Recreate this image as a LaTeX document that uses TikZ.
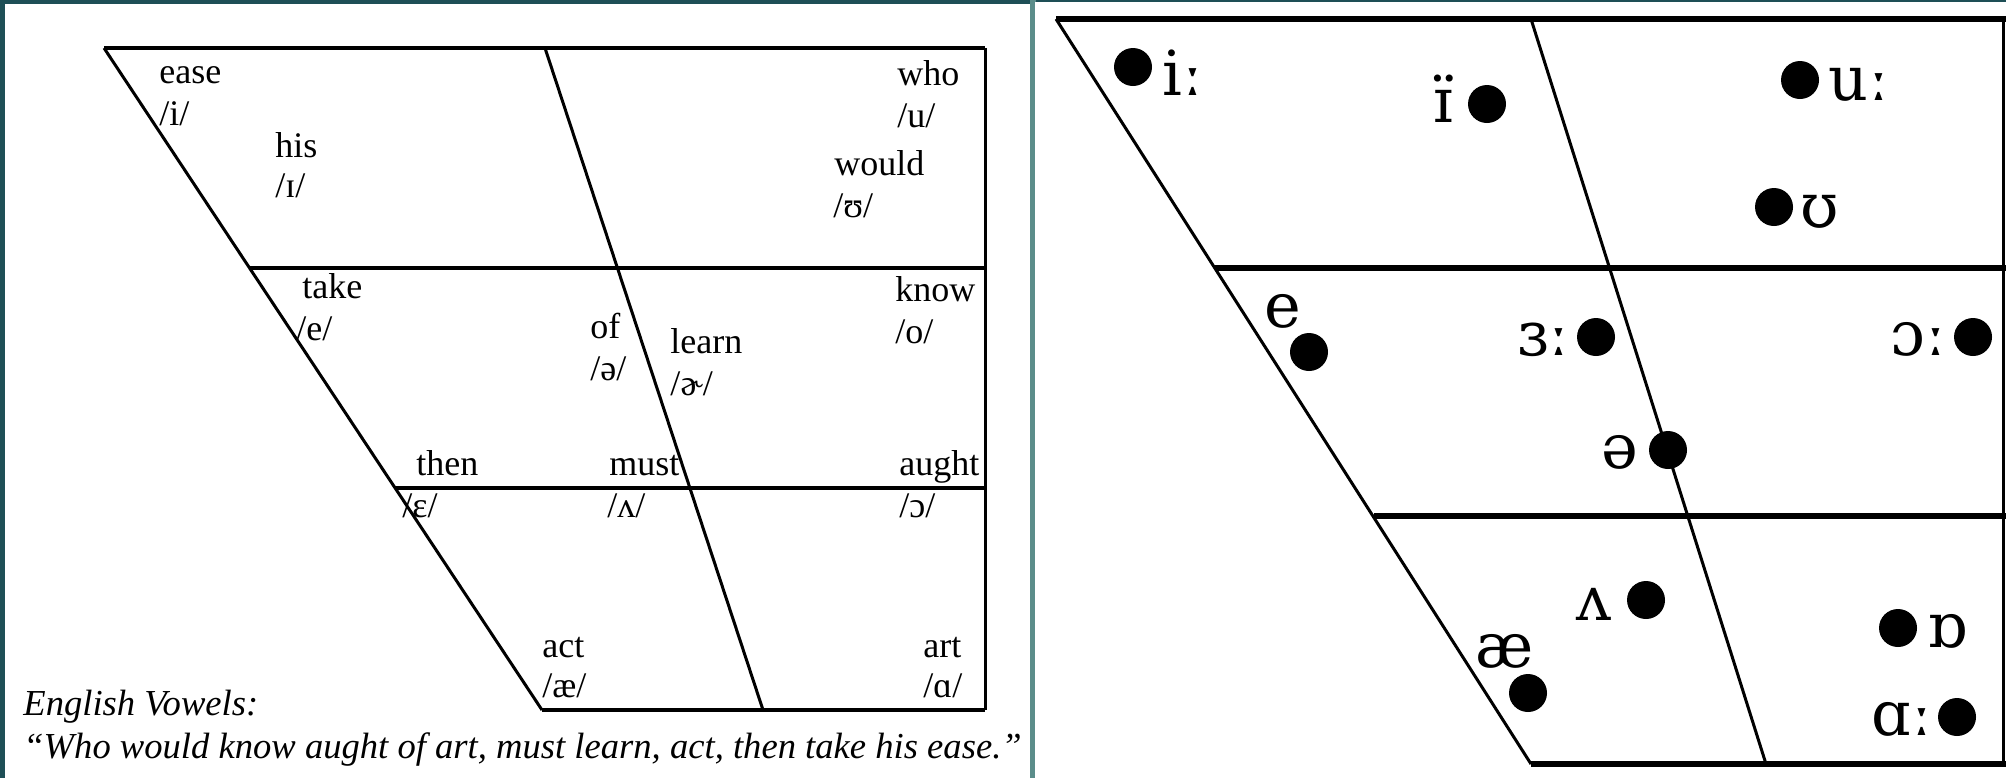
\documentclass[tikz,border=0pt]{standalone}
\usepackage{fontspec}
\setmainfont{Liberation Serif}
\newfontfamily\ipafont{DejaVu Serif}
\definecolor{frameteal}{HTML}{1E4F56}
\definecolor{divteal}{HTML}{5B8D8A}
\begin{document}
\begin{tikzpicture}[x=0.5pt,y=-0.5pt,
  lbl/.style={anchor=base west,inner sep=0pt,font=\fontsize{18}{20}\selectfont},
  captxt/.style={anchor=base west,inner sep=0pt,font=\itshape\fontsize{18.3}{20}\selectfont},
  ipa/.style={anchor=base west,inner sep=0pt,font=\ipafont\fontsize{31}{36}\selectfont},
  vdot/.style={circle,fill=black,minimum size=19pt,inner sep=0pt},
  hline/.style={line width=2.2pt,black},
  sline/.style={line width=1.5pt,black},
  hlineR/.style={line width=2.6pt,black}]
% background and panels
\fill[frameteal] (0,0) rectangle (2006,778);
\useasboundingbox (0,0) rectangle (2006,778);
\fill[divteal] (1030,0) rectangle (1036,778);
\fill[white] (5,4) rectangle (1030,778);
\fill[white] (1035,2) rectangle (2006,778);

% ---------- left chart ----------
\coordinate (LTL) at (104,48);
\coordinate (LTM) at (545,48);
\coordinate (LTR) at (985,48);
\coordinate (LBL) at (542,710);
\coordinate (LBM) at (763,710);
\coordinate (LBR) at (985,710);
\coordinate (L1L) at (250,268);
\coordinate (L1R) at (985,268);
\coordinate (L2L) at (396,488);
\coordinate (L2R) at (985,488);
\draw[hline] (LTL) -- (LTR);
\draw[hline] (LBL) -- (LBR);
\draw[hline] (L1L) -- (L1R);
\draw[hline] (L2L) -- (L2R);
\draw[sline] (LTL) -- (LBL);
\draw[sline] (LTM) -- (LBM);
\draw[sline] (LTR) -- (LBR);

\node[lbl] (w1) at (159,83) {ease};
\node[lbl] (s1) at (159,125) {/i/};
\node[lbl] (w2) at (275,157) {his};
\node[lbl] (s2) at (275,197) {/ɪ/};
\node[lbl] (w3) at (897,85) {who};
\node[lbl] (s3) at (897,127) {/u/};
\node[lbl] (w4) at (834,175) {would};
\node[lbl] (s4) at (833,217) {/ʊ/};
\node[lbl] (w5) at (302,298) {take};
\node[lbl] (s5) at (296,340) {/e/};
\node[lbl] (w6) at (590,338) {of};
\node[lbl] (s6) at (590,380) {/ə/};
\node[lbl] (w7) at (670,353) {learn};
\node[lbl] (s7) at (670,395) {/ɚ/};
\node[lbl] (w8) at (895,301) {know};
\node[lbl] (s8) at (895,343) {/o/};
\node[lbl] (w9) at (416,475) {then};
\node[lbl] (s9) at (402,517) {/ɛ/};
\node[lbl] (w10) at (609,475) {must};
\node[lbl] (s10) at (607,517) {/ʌ/};
\node[lbl] (w11) at (899,475) {aught};
\node[lbl] (s11) at (899,517) {/ɔ/};
\node[lbl] (w12) at (542,657) {act};
\node[lbl] (s12) at (542,697) {/æ/};
\node[lbl] (w13) at (923,657) {art};
\node[lbl] (s13) at (923,697) {/ɑ/};
\node[captxt] (cap1) at (23,715) {English Vowels:};
\node[captxt] (cap2) at (23,758) {``Who would know aught of art, must learn, act, then take his ease.''};

% ---------- right chart ----------
\coordinate (RTL) at (1056,19);
\coordinate (RTM) at (1531,19);
\coordinate (RTR) at (2003,19);
\coordinate (RBL) at (1531,764);
\coordinate (RBM) at (1766,764);
\coordinate (RBR) at (2003,764);
\coordinate (R1L) at (1215,268);
\coordinate (R1R) at (2003,268);
\coordinate (R2L) at (1374,516);
\coordinate (R2R) at (2003,516);
\draw[hlineR] (RTL) -- (2006,19);
\draw[hlineR] (RBL) -- (2006,764);
\draw[hlineR] (R1L) -- (2006,268);
\draw[hlineR] (R2L) -- (2006,516);
\draw[sline] (RTL) -- (RBL);
\draw[sline] (RTM) -- (RBM);
\draw[sline] (RTR) -- (RBR);

\node[vdot] (d1) at (1133,67) {};
\node[ipa] (p1) at (1162,95) {iː};
\node[ipa] (p2) at (1433,122) {ɪ̈};
\node[vdot] (d2) at (1487,104) {};
\node[vdot] (d3) at (1800,80) {};
\node[ipa] (p3) at (1828,100) {uː};
\node[vdot] (d4) at (1774,207) {};
\node[ipa] (p4) at (1800,227) {ʊ};
\node[ipa] (p5) at (1264,327) {e};
\node[vdot] (d5) at (1309,352) {};
\node[ipa] (p6) at (1517,355) {ɜː};
\node[vdot] (d6) at (1596,337) {};
\node[ipa] (p7) at (1890,355) {ɔː};
\node[vdot] (d7) at (1973,337) {};
\node[ipa] (p8) at (1601,468) {ə};
\node[vdot] (d8) at (1668,450) {};
\node[ipa] (p9) at (1576,620) {ʌ};
\node[vdot] (d9) at (1646,600) {};
\node[ipa] (p10) at (1475,667) {æ};
\node[vdot] (d10) at (1528,693) {};
\node[vdot] (d11) at (1898,628) {};
\node[ipa] (p11) at (1927,647) {ɒ};
\node[ipa] (p12) at (1871,735) {ɑː};
\node[vdot] (d12) at (1957,717) {};
\end{tikzpicture}
\end{document}
